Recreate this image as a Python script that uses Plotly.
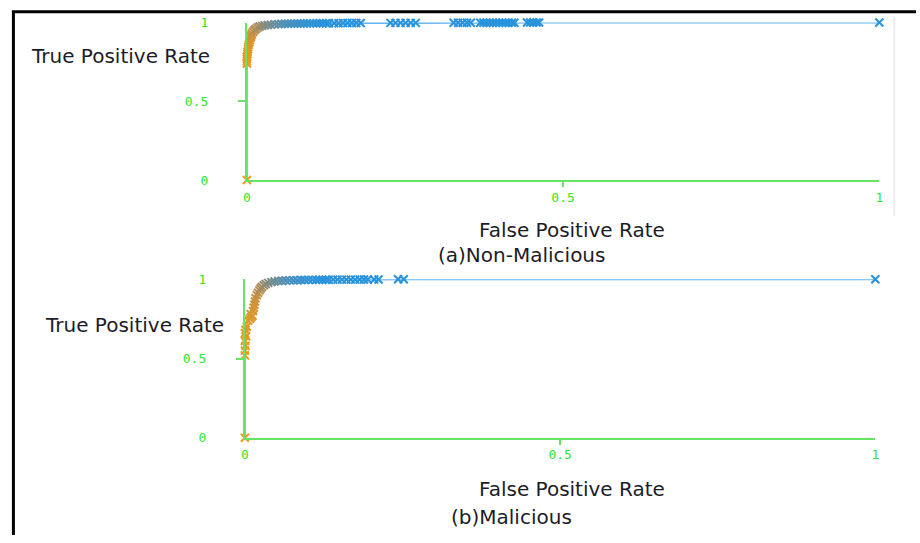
import plotly.graph_objects as go

# ---------------- data ----------------
# (a) Non-Malicious ROC curve
nm_fpr = [0.000, 0.000, 0.000, 0.000, 0.000, 0.001, 0.001, 0.002, 0.002, 0.003,
          0.004, 0.005, 0.006, 0.007, 0.008, 0.010, 0.012, 0.014, 0.017, 0.020,
          0.024, 0.028, 0.033, 0.038, 0.044, 0.050, 0.055, 0.060, 0.065, 0.070,
          0.075, 0.080, 0.085, 0.090, 0.095, 0.100, 0.105, 0.110, 0.115, 0.120,
          0.125, 0.130, 0.138, 0.145, 0.152, 0.159, 0.166, 0.173, 0.180, 0.227,
          0.235, 0.243, 0.251, 0.259, 0.267, 0.327, 0.334, 0.341, 0.348, 0.354,
          0.369, 0.374, 0.379, 0.384, 0.389, 0.394, 0.399, 0.404, 0.409, 0.414,
          0.419, 0.423, 0.443, 0.448, 0.453, 0.458, 0.462, 1.000]
nm_tpr = [0.000, 0.740, 0.755, 0.770, 0.785, 0.800, 0.815, 0.830, 0.845, 0.860,
          0.875, 0.890, 0.905, 0.918, 0.930, 0.942, 0.952, 0.960, 0.968, 0.975,
          0.979, 0.982, 0.985, 0.987, 0.989, 0.990, 0.991, 0.992, 0.992, 0.993,
          0.993, 0.994, 0.994, 0.994, 0.995, 0.995, 0.995, 0.995, 0.996, 0.996,
          0.996, 0.996, 0.996, 0.996, 0.997, 0.997, 0.997, 0.997, 0.997, 0.998,
          0.998, 0.998, 0.998, 0.998, 0.998, 0.999, 0.999, 0.999, 0.999, 0.999,
          0.999, 0.999, 0.999, 0.999, 0.999, 0.999, 0.999, 0.999, 0.999, 0.999,
          0.999, 0.999, 1.000, 1.000, 1.000, 1.000, 1.000, 1.000]
# threshold shade (0 = low threshold / orange, 1 = high / blue)
nm_shade = [0.00, 0.02, 0.03, 0.04, 0.05, 0.06, 0.07, 0.08, 0.09, 0.10,
            0.12, 0.14, 0.17, 0.20, 0.24, 0.28, 0.33, 0.38, 0.43, 0.48,
            0.53, 0.58, 0.63, 0.68, 0.72, 0.76, 0.79, 0.82, 0.85, 0.87,
            0.89, 0.91, 0.93, 0.94, 0.95, 0.96, 0.97, 0.98, 0.99, 1.00,
            1.00, 1.00, 1.00, 1.00, 1.00, 1.00, 1.00, 1.00, 1.00, 1.00,
            1.00, 1.00, 1.00, 1.00, 1.00, 1.00, 1.00, 1.00, 1.00, 1.00,
            1.00, 1.00, 1.00, 1.00, 1.00, 1.00, 1.00, 1.00, 1.00, 1.00,
            1.00, 1.00, 1.00, 1.00, 1.00, 1.00, 1.00, 1.00]

# (b) Malicious ROC curve
m_fpr = [0.000, 0.000, 0.000, 0.001, 0.000, 0.002, 0.000, 0.001, 0.003, 0.005,
         0.008, 0.010, 0.012, 0.009, 0.013, 0.014, 0.015, 0.016, 0.017, 0.019,
         0.021, 0.023, 0.025, 0.027, 0.030, 0.033, 0.037, 0.042, 0.047, 0.053,
         0.059, 0.065, 0.071, 0.077, 0.083, 0.089, 0.095, 0.101, 0.107, 0.113,
         0.118, 0.123, 0.128, 0.133, 0.140, 0.147, 0.154, 0.161, 0.168, 0.175,
         0.182, 0.189, 0.195, 0.205, 0.212, 0.243, 0.252, 1.000]
m_tpr = [0.000, 0.520, 0.550, 0.580, 0.610, 0.640, 0.660, 0.680, 0.700, 0.740,
         0.750, 0.760, 0.770, 0.780, 0.800, 0.820, 0.840, 0.860, 0.880, 0.900,
         0.915, 0.930, 0.942, 0.952, 0.962, 0.970, 0.977, 0.982, 0.986, 0.989,
         0.991, 0.992, 0.993, 0.994, 0.994, 0.995, 0.995, 0.996, 0.996, 0.996,
         0.997, 0.997, 0.997, 0.997, 0.998, 0.998, 0.998, 0.998, 0.998, 0.998,
         0.999, 0.999, 0.999, 0.999, 0.999, 1.000, 1.000, 1.000]
m_shade = [0.00, 0.02, 0.03, 0.04, 0.05, 0.06, 0.07, 0.08, 0.09, 0.10,
           0.11, 0.12, 0.13, 0.14, 0.15, 0.17, 0.19, 0.21, 0.24, 0.27,
           0.31, 0.35, 0.40, 0.45, 0.50, 0.55, 0.60, 0.65, 0.70, 0.74,
           0.78, 0.82, 0.85, 0.88, 0.91, 0.93, 0.95, 0.97, 0.98, 0.99,
           1.00, 1.00, 1.00, 1.00, 1.00, 1.00, 1.00, 1.00, 1.00, 1.00,
           1.00, 1.00, 1.00, 1.00, 1.00, 1.00, 1.00, 1.00]

tick_vals = [0, 0.5, 1]
tick_text = ["0", "0.5", "1"]
x_title = "False Positive Rate"
y_title = "True Positive Rate"
captions = ["(a)Non-Malicious", "(b)Malicious"]

# ---------------- styling ----------------
W, H = 920, 543
GREEN_TXT = "#2fe62f"
GREEN_LINE = "#66e466"
TITLE_COL = "#1c1c28"
MARK_STOPS = [(0.0, (243, 152, 22)), (0.5, (155, 140, 105)), (1.0, (40, 146, 220))]
LINE_STOPS = [(0.0, (246, 160, 40)), (1.0, (95, 182, 240))]


def scale(stops, t):
    for (t0, c0), (t1, c1) in zip(stops[:-1], stops[1:]):
        if t <= t1:
            f = 0 if t1 == t0 else (t - t0) / (t1 - t0)
            f = max(0.0, min(1.0, f))
            return "rgb(%d,%d,%d)" % tuple(round(a + (b - a) * f) for a, b in zip(c0, c1))
    return "rgb(%d,%d,%d)" % stops[-1][1]


fig = go.Figure()

panels = [
    (nm_fpr, nm_tpr, nm_shade, "x", "y"),
    (m_fpr, m_tpr, m_shade, "x2", "y2"),
]
for fpr, tpr, shade, xa, ya in panels:
    assert len(fpr) == len(tpr) == len(shade)
    for i in range(len(fpr) - 1):
        fig.add_trace(go.Scatter(
            x=[fpr[i], fpr[i + 1]], y=[tpr[i], tpr[i + 1]], mode="lines",
            line=dict(color=scale(LINE_STOPS, shade[i + 1]), width=2),
            xaxis=xa, yaxis=ya, showlegend=False, hoverinfo="skip", cliponaxis=False))
    cols = [scale(MARK_STOPS, s) for s in shade]
    fig.add_trace(go.Scatter(
        x=fpr, y=tpr, mode="markers",
        marker=dict(symbol="x-thin", size=8, color=cols,
                    line=dict(color=cols, width=2)),
        xaxis=xa, yaxis=ya, showlegend=False, cliponaxis=False))


def px_x(p):
    return p / W


def px_y(p):
    return 1 - p / H


tickfont = dict(family="DejaVu Sans Mono", size=13, color=GREEN_TXT)


def xaxis_cfg(x0, x1, y_anchor):
    return dict(domain=[px_x(x0), px_x(x1)], range=[0, 1], anchor=y_anchor,
                showline=True, linecolor=GREEN_LINE, linewidth=2,
                showgrid=False, zeroline=False, tickvals=tick_vals, ticktext=tick_text,
                ticks="", tickfont=tickfont, ticklabelstandoff=4,
                minor=dict(tickvals=[0.5], ticks="outside", ticklen=5,
                           tickcolor=GREEN_LINE, tickwidth=1.5))


def yaxis_cfg(y_top, y_bot, x_anchor):
    return dict(domain=[px_y(y_bot), px_y(y_top)], range=[0, 1], anchor=x_anchor,
                showline=True, linecolor=GREEN_LINE, linewidth=2,
                showgrid=False, zeroline=False, tickvals=tick_vals, ticktext=tick_text,
                ticks="", tickfont=tickfont, ticklabelstandoff=34,
                minor=dict(tickvals=[0.5], ticks="outside", ticklen=7,
                           tickcolor=GREEN_LINE, tickwidth=1.5))


titlefont = dict(family="DejaVu Sans", size=20, color=TITLE_COL)


def note(text, cx, cy):
    return dict(text=text, x=px_x(cx), y=px_y(cy), xref="paper", yref="paper",
                showarrow=False, xanchor="center", yanchor="middle", font=titlefont)


annotations = [
    note(y_title, 118, 50), note(x_title, 573, 229), note(captions[0], 522, 255),
    note(y_title, 132, 327), note(x_title, 573, 496), note(captions[1], 512, 524),
]

shapes = [
    dict(type="line", xref="paper", yref="paper", x0=px_x(8), x1=1.0, y0=px_y(5), y1=px_y(5),
         line=dict(color="#000000", width=3)),
    dict(type="line", xref="paper", yref="paper", x0=px_x(9.5), x1=px_x(9.5), y0=px_y(4), y1=0,
         line=dict(color="#000000", width=3)),
    dict(type="line", xref="paper", yref="paper", x0=px_x(898), x1=px_x(898), y0=px_y(10), y1=px_y(215),
         line=dict(color="#ececec", width=2)),
]

fig.update_layout(
    width=W, height=H, autosize=False,
    margin=dict(l=0, r=0, t=0, b=0),
    paper_bgcolor="white", plot_bgcolor="white",
    xaxis=xaxis_cfg(245, 883, "y"),
    yaxis=yaxis_cfg(16, 178, "x"),
    xaxis2=xaxis_cfg(243, 879, "y2"),
    yaxis2=yaxis_cfg(280, 443, "x2"),
    annotations=annotations, shapes=shapes,
    showlegend=False,
)

fig.write_html("out.html", config={"displayModeBar": False},
               post_script="document.body.style.margin='0';document.body.style.overflow='hidden';")
